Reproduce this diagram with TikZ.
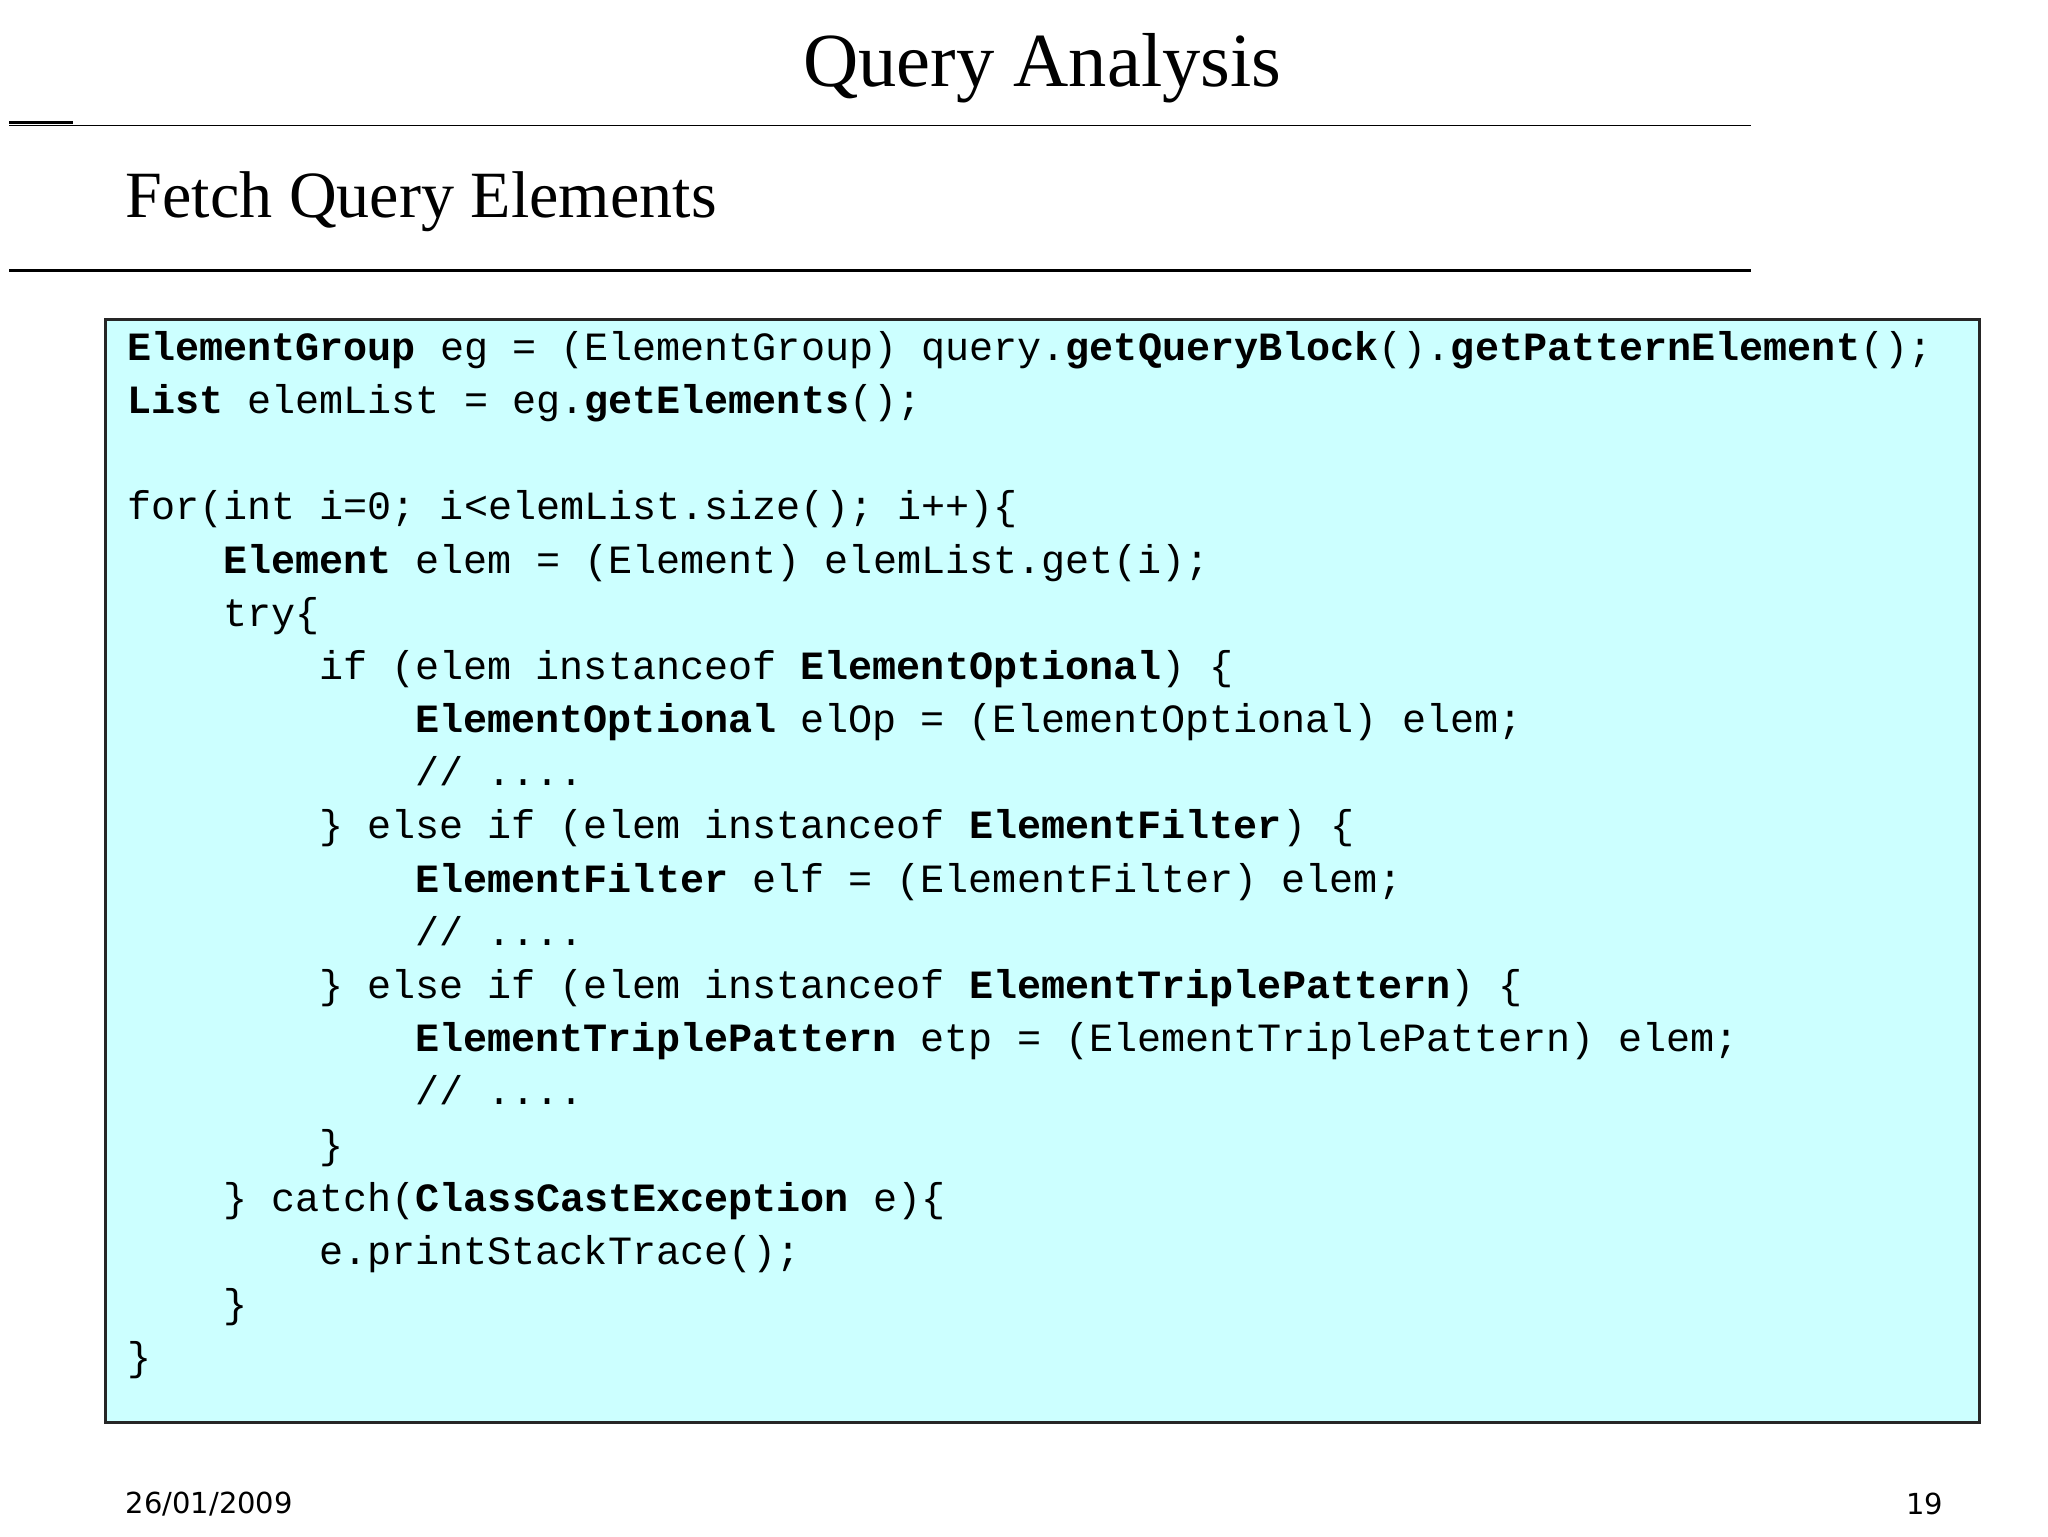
\documentclass[tikz,border=0pt]{standalone}
\usepackage{fontspec}
\setmainfont{Liberation Serif}
\setmonofont{Liberation Mono}
\newfontfamily\datefont{DejaVu Sans}
\definecolor{boxfill}{HTML}{CCFFFF}
\begin{document}
\begin{tikzpicture}[x=0.02cm,y=-0.02cm,
  codeline/.style={anchor=mid west,inner sep=0pt,font=\fontsize{17.3}{20}\selectfont\ttfamily}]
\useasboundingbox (0,0) rectangle (1552,1164);
\node (title) at (790,52) {\fontsize{33}{36}\selectfont Query Analysis};
\draw[line width=0.6pt] (7,95) -- (1327,95);
\draw[line width=1.2pt] (7,93) -- (55,93);
\node[anchor=west,inner sep=0pt] (sub) at (95,153) {\fontsize{28.5}{32}\selectfont Fetch Query Elements};
\draw[line width=1.2pt] (7,205) -- (1327,205);
\draw[fill=boxfill,draw=black!85,line width=1pt] (80,242) rectangle (1500,1078);
\newcommand\cl[3]{\node[codeline] at ({96+18.2*#2},{269+40.3*#1}) {#3};}
\cl{0}{0}{\textbf{ElementGroup} eg = (ElementGroup) query.\textbf{getQueryBlock}().\textbf{getPatternElement}();}
\cl{1}{0}{\textbf{List} elemList = eg.\textbf{getElements}();}
\cl{3}{0}{for(int i=0; i<elemList.size(); i++)\{}
\cl{4}{4}{\textbf{Element} elem = (Element) elemList.get(i);}
\cl{5}{4}{try\{}
\cl{6}{8}{if (elem instanceof \textbf{ElementOptional}) \{}
\cl{7}{12}{\textbf{ElementOptional} elOp = (ElementOptional) elem;}
\cl{8}{12}{// ....}
\cl{9}{8}{\} else if (elem instanceof \textbf{ElementFilter}) \{}
\cl{10}{12}{\textbf{ElementFilter} elf = (ElementFilter) elem;}
\cl{11}{12}{// ....}
\cl{12}{8}{\} else if (elem instanceof \textbf{ElementTriplePattern}) \{}
\cl{13}{12}{\textbf{ElementTriplePattern} etp = (ElementTriplePattern) elem;}
\cl{14}{12}{// ....}
\cl{15}{8}{\}}
\cl{16}{4}{\} catch(\textbf{ClassCastException} e)\{}
\cl{17}{8}{e.printStackTrace();}
\cl{18}{4}{\}}
\cl{19}{0}{\}}
\node[anchor=west,inner sep=0pt] (date) at (95,1140) {\datefont\fontsize{12.5}{14}\selectfont 26/01/2009};
\node[anchor=east,inner sep=0pt] (page) at (1473,1140) {\datefont\fontsize{12.5}{14}\selectfont 19};
\end{tikzpicture}
\end{document}
